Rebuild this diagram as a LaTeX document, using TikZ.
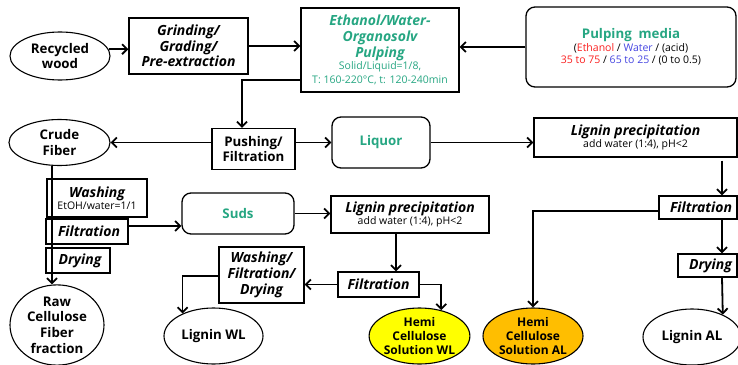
\documentclass[tikz,border=0pt]{standalone}
\usepackage{fontspec}
\setmainfont{Open Sans}
\usetikzlibrary{shapes.geometric,arrows.meta,calc}
\definecolor{tgreen}{RGB}{38,166,130}
\definecolor{tred}{RGB}{250,30,30}
\definecolor{tblue}{RGB}{70,70,225}
\definecolor{hyellow}{RGB}{255,255,0}
\definecolor{horange}{RGB}{255,190,0}
\newcommand{\bigf}{\fontsize{13.3}{15.7}\selectfont\bfseries}
\newcommand{\itf}{\fontsize{14}{15.7}\selectfont\bfseries\itshape}
\newcommand{\smallf}{\fontsize{10.5}{12.5}\selectfont}
\tikzset{
  base/.style={draw, line width=1.3pt, inner sep=0pt, align=center},
  ell/.style={base, ellipse, line width=1.1pt, font=\bigf},
  box/.style={base, rectangle, font=\itf},
  rbox/.style={base, rectangle, rounded corners=9pt, font=\bigf, text=tgreen},
  arr/.style={line width=1.8pt, -{Straight Barb[length=5pt,width=10pt,line width=1.8pt]}}
}
\begin{document}
\begin{tikzpicture}[x=1pt,y=-1pt]
\useasboundingbox (0,0) rectangle (738,364);
% top row
\node[ell, minimum width=100, minimum height=48] (rw) at (60,56) {Recycled\\wood};
\node[box, minimum width=119, minimum height=56] (grind) at (188.5,46) {Grinding/\\Grading/\\Pre-extraction};
\node[box, minimum width=158, minimum height=84, text=tgreen] (eth) at (380,50)
  {Ethanol/Water-\\Organosolv\\Pulping\\[-3pt]{\smallf\normalfont Solid/Liquid=1/8,}\\[-2pt]{\smallf\normalfont T: 160-220°C, t: 120-240min}};
\node[rbox, minimum width=210, minimum height=80] (media) at (631,47)
  {Pulping\ \ media\\[-3pt]{\smallf\normalfont\color{black}(\textcolor{tred}{Ethanol} / \textcolor{tblue}{Water} / (acid)}\\[-3pt]
   {\smallf\normalfont\color{black}\textcolor{tred}{35 to 75} / \textcolor{tblue}{65 to 25} / (0 to 0.5)}};
% second row
\node[ell, minimum width=101, minimum height=46] (crude) at (59.5,142.5) {Crude\\Fiber};
\node[box, font=\bigf, minimum width=83, minimum height=41] (push) at (253.5,149) {Pushing/\\Filtration};
\node[rbox, minimum width=98, minimum height=51] (liquor) at (381,142.5) {Liquor};
\node[box, minimum width=203, minimum height=39] (lpAL) at (635.5,137.5)
  {Lignin precipitation\\[-4pt]{\smallf\normalfont add water (1:4), pH<2}};
% left column
\node[box, minimum width=100, minimum height=38] (wash) at (97,198)
  {Washing\\[-4pt]{\smallf\normalfont EtOH/water=1/1}};
\node[box, minimum width=82, minimum height=25] (filt) at (87,231.5) {\hspace*{4pt}Filtration};
\node[box, minimum width=64, minimum height=25] (dry) at (78,260.5) {\hspace*{4pt}Drying};
\node[ell, minimum width=94, minimum height=80] (raw) at (57,325) {Raw\\Cellulose\\Fiber\\fraction};
% middle
\node[rbox, minimum width=112, minimum height=41] (suds) at (238,213.5) {Suds};
\node[box, minimum width=158, minimum height=37] (lpWL) at (410,214.5)
  {Lignin precipitation\\[-4pt]{\smallf\normalfont add water (1:4), pH<2}};
\node[box, minimum width=81, minimum height=25] (filtWL) at (378.5,284.5) {Filtration};
\node[box, minimum width=85, minimum height=56] (wfd) at (261.5,275) {Washing/\\Filtration/\\Drying};
\node[ell, minimum width=99, minimum height=56] (ligWL) at (213.5,336) {Lignin WL};
\node[ell, minimum width=99, minimum height=56, fill=hyellow, font=\fontsize{12}{14}\selectfont\bfseries] (hemiWL) at (419.5,336) {Hemi\\Cellulose\\Solution WL};
% right column
\node[box, minimum width=78, minimum height=23] (filtAL) at (698,207.5) {\hspace*{6pt}Filtration};
\node[box, minimum width=59, minimum height=23] (dryAL) at (707.5,265.5) {\hspace*{6pt}Drying};
\node[ell, minimum width=98, minimum height=56] (ligAL) at (692,337) {Lignin AL};
\node[ell, minimum width=100, minimum height=56, fill=horange, font=\fontsize{12}{14}\selectfont\bfseries] (hemiAL) at (533,336) {Hemi\\Cellulose\\Solution AL};
\coordinate (colAL) at (722,0);
% connectors
\draw[arr] (rw.8) -- (rw.8 -| grind.west);
\draw[arr] (grind.east) -- (grind.east -| eth.west);
\draw[arr] (media.west) -- (media.west -| eth.east);
\draw[arr] ([yshift=13pt]eth.south west) -| ([xshift=-11.5pt]push.north);
\draw[arr] (crude.east -| push.west) -- (crude.east);
\draw[arr] (liquor.west -| push.east) -- (liquor.west);
\draw[arr] (liquor.east) -- (liquor.east -| lpAL.west);
\draw[arr] ([yshift=-3pt]lpAL.south -| colAL) -- (filtAL.north -| colAL);
\draw[arr] (filtAL.south -| colAL) -- (dryAL.north -| colAL);
\draw[arr] (dryAL.south -| colAL) -- (ligAL.36);
\draw[arr] ([yshift=-3.5pt]filtAL.west) -| (hemiAL.north);
\draw[arr] ([xshift=-7.5pt]crude.south) -- ([xshift=-7.5pt]crude.south |- raw.north);
\draw[arr] ([yshift=5.5pt]filt.east) -- ([yshift=5.5pt]filt.east -| suds.west);
\draw[arr] (suds.east) -- (suds.east -| lpWL.west);
\draw[arr] ([xshift=17.5pt]filtWL.north |- lpWL.south) -- ([xshift=17.5pt]filtWL.north);
\draw[arr] (filtWL.west) -- (filtWL.west -| wfd.east);
\draw[arr] ([yshift=-1pt]wfd.west) -| (ligWL.144);
\draw[arr] (filtWL.east) -| (hemiWL.50);
\end{tikzpicture}
\end{document}
